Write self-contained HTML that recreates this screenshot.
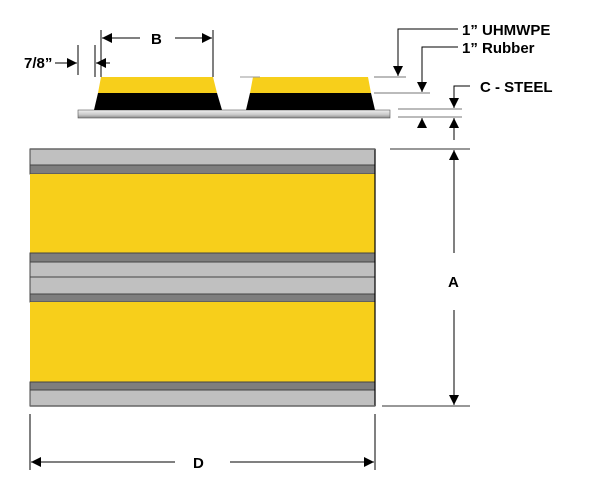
<!DOCTYPE html>
<html><head><style>body{margin:0;background:#fff}svg{display:block}</style></head><body>
<svg width="602" height="477" viewBox="0 0 602 477" xmlns="http://www.w3.org/2000/svg" font-family="Liberation Sans, Arial, sans-serif" font-weight="bold">
<defs>
<linearGradient id="pl" x1="0" y1="0" x2="0" y2="1"><stop offset="0" stop-color="#f0f0f0"/><stop offset="0.6" stop-color="#c8c8c8"/><stop offset="1" stop-color="#888"/></linearGradient>
<marker id="ar" markerWidth="10" markerHeight="10" refX="10" refY="5" orient="auto" markerUnits="userSpaceOnUse"><path d="M0,0 L10,5 L0,10 z" fill="#000"/></marker>
</defs>
<rect x="78" y="110" width="312" height="8" fill="url(#pl)" stroke="#555" stroke-width="0.6"/>
<polygon points="101,77 213,77 217,93 98,93" fill="#f7cf1b"/>
<polygon points="98,93 217,93 222,110 94,110" fill="#000"/>
<polygon points="253,77 368,77 371,93 250,93" fill="#f7cf1b"/>
<polygon points="250,93 371,93 375,110 246,110" fill="#000"/>
<g stroke="#444" stroke-width="1">
<rect x="30" y="149" width="345" height="16" fill="#c0c0c0"/>
<rect x="30" y="165" width="345" height="9" fill="#7e7e7e"/>
<rect x="30" y="174" width="345" height="79" fill="#f7cf1b" stroke="none"/>
<rect x="30" y="253" width="345" height="9" fill="#7e7e7e"/>
<rect x="30" y="262" width="345" height="15" fill="#c0c0c0"/>
<rect x="30" y="277" width="345" height="17" fill="#c0c0c0"/>
<rect x="30" y="294" width="345" height="8" fill="#7e7e7e"/>
<rect x="30" y="302" width="345" height="80" fill="#f7cf1b" stroke="none"/>
<rect x="30" y="382" width="345" height="8" fill="#7e7e7e"/>
<rect x="30" y="390" width="345" height="16" fill="#c0c0c0"/>
</g>
<line x1="375" y1="149" x2="375" y2="406" stroke="#000" stroke-width="1.2"/>
<line x1="30" y1="149" x2="375" y2="149" stroke="#666" stroke-width="1.5"/>
<line x1="30" y1="406" x2="375" y2="406" stroke="#666" stroke-width="1.5"/>
<g stroke="#000" stroke-width="1" fill="none">
<line x1="101" y1="30" x2="101" y2="77"/><line x1="213" y1="30" x2="213" y2="77"/>
<line x1="140" y1="38" x2="102" y2="38" marker-end="url(#ar)"/>
<line x1="175" y1="38" x2="212" y2="38" marker-end="url(#ar)"/>
<line x1="78" y1="45" x2="78" y2="75"/><line x1="95" y1="45" x2="95" y2="77"/>
<line x1="55" y1="63" x2="77" y2="63" marker-end="url(#ar)"/>
<line x1="110" y1="63" x2="96" y2="63" marker-end="url(#ar)"/>
<polyline points="458,29 398,29 398,76" marker-end="url(#ar)"/>
<polyline points="458,47 422,47 422,92" marker-end="url(#ar)"/>
<polyline points="470,86 454,86 454,108" marker-end="url(#ar)"/>
<line x1="422" y1="127" x2="422" y2="118" marker-end="url(#ar)"/>
<line x1="454" y1="140" x2="454" y2="118" marker-end="url(#ar)"/>
<line x1="454" y1="253" x2="454" y2="150" marker-end="url(#ar)"/>
<line x1="454" y1="310" x2="454" y2="405" marker-end="url(#ar)"/>
<line x1="30" y1="414" x2="30" y2="470"/><line x1="375" y1="414" x2="375" y2="470"/>
<line x1="175" y1="462" x2="31" y2="462" marker-end="url(#ar)"/>
<line x1="230" y1="462" x2="374" y2="462" marker-end="url(#ar)"/>
</g>
<g stroke="#777" stroke-width="1">
<line x1="240" y1="77" x2="260" y2="77" stroke="#999"/>
<line x1="374" y1="77" x2="406" y2="77"/>
<line x1="374" y1="93" x2="430" y2="93"/>
<line x1="398" y1="109" x2="462" y2="109"/>
<line x1="398" y1="117" x2="462" y2="117"/>
<line x1="390" y1="149" x2="470" y2="149" stroke-width="1.5"/>
<line x1="382" y1="406" x2="470" y2="406" stroke-width="1.5"/>
</g>
<g font-size="15" fill="#000">
<text x="151" y="44">B</text>
<text x="24" y="68">7/8”</text>
<text x="462" y="35">1” UHMWPE</text>
<text x="462" y="53">1” Rubber</text>
<text x="480" y="92">C - STEEL</text>
<text x="448" y="287">A</text>
<text x="193" y="468">D</text>
</g>
</svg>
</body></html>
